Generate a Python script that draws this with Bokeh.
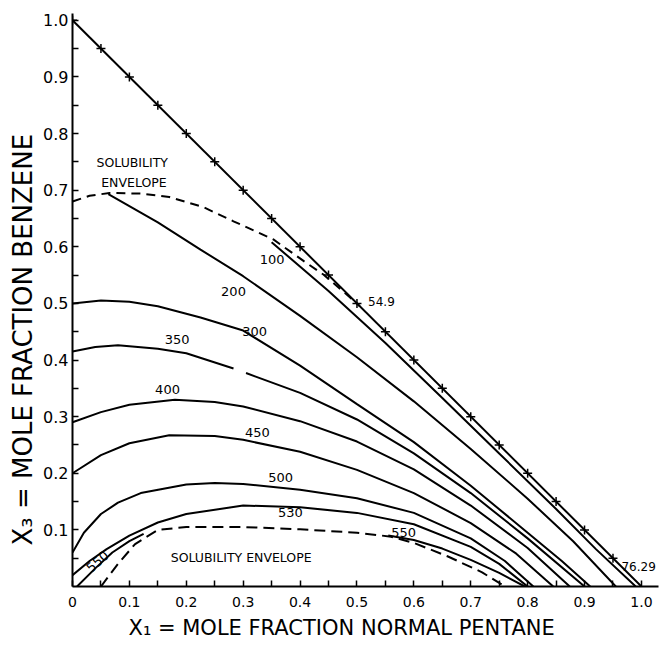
from bokeh.plotting import figure
from bokeh.models import FixedTicker, Range1d, Title
from bokeh.core.properties import value
from bokeh.embed import file_html
from bokeh.resources import INLINE

# ---------------- data ----------------
diag_x = [0.0, 1.0]
diag_y = [1.0, 0.0]
pts_x = [0.0, 0.05, 0.10, 0.15, 0.20, 0.25, 0.30, 0.35, 0.40, 0.45, 0.50,
         0.55, 0.60, 0.65, 0.70, 0.75, 0.80, 0.85, 0.90, 0.95]
pts_y = [1.0, 0.95, 0.90, 0.85, 0.80, 0.75, 0.70, 0.65, 0.60, 0.55, 0.50,
         0.45, 0.40, 0.35, 0.30, 0.25, 0.20, 0.15, 0.10, 0.05]

env_top_x = [0.0, 0.03, 0.065, 0.12, 0.17, 0.23, 0.283, 0.353, 0.406, 0.441, 0.476, 0.505]
env_top_y = [0.68, 0.69, 0.695, 0.694, 0.688, 0.67, 0.645, 0.613, 0.575, 0.551, 0.521, 0.495]

env_low_x = [0.05, 0.08, 0.11, 0.15, 0.20, 0.30, 0.40, 0.50, 0.56, 0.60, 0.66, 0.72, 0.76]
env_low_y = [0.0, 0.04, 0.075, 0.10, 0.105, 0.105, 0.101, 0.095, 0.088, 0.077, 0.053, 0.025, 0.0]

p100_x = [0.35, 0.45, 0.55, 0.65, 0.75, 0.85, 0.92, 0.99]
p100_y = [0.608, 0.522, 0.430, 0.333, 0.235, 0.137, 0.066, 0.0]

p200_x = [0.063, 0.15, 0.225, 0.30, 0.40, 0.50, 0.60, 0.70, 0.80, 0.88, 0.955]
p200_y = [0.693, 0.643, 0.595, 0.548, 0.478, 0.405, 0.327, 0.243, 0.155, 0.08, 0.0]

p300_x = [0.0, 0.05, 0.10, 0.15, 0.225, 0.30, 0.40, 0.50, 0.60, 0.70, 0.80, 0.86, 0.91]
p300_y = [0.50, 0.505, 0.503, 0.495, 0.475, 0.452, 0.39, 0.322, 0.255, 0.178, 0.095, 0.045, 0.0]

p350a_x = [0.0, 0.04, 0.08, 0.15, 0.20, 0.283]
p350a_y = [0.415, 0.423, 0.426, 0.42, 0.412, 0.385]
p350b_x = [0.305, 0.40, 0.50, 0.60, 0.70, 0.80, 0.90]
p350b_y = [0.377, 0.342, 0.295, 0.235, 0.165, 0.085, 0.0]

p400_x = [0.0, 0.05, 0.10, 0.18, 0.25, 0.30, 0.40, 0.50, 0.60, 0.70, 0.80, 0.874]
p400_y = [0.29, 0.308, 0.321, 0.33, 0.326, 0.318, 0.292, 0.256, 0.207, 0.143, 0.068, 0.0]

p450_x = [0.0, 0.05, 0.10, 0.17, 0.25, 0.30, 0.40, 0.50, 0.60, 0.70, 0.78, 0.845]
p450_y = [0.20, 0.232, 0.253, 0.267, 0.266, 0.259, 0.238, 0.206, 0.165, 0.112, 0.058, 0.0]

p500_x = [0.0, 0.02, 0.05, 0.08, 0.12, 0.20, 0.25, 0.30, 0.40, 0.50, 0.60, 0.70, 0.76, 0.81]
p500_y = [0.06, 0.095, 0.128, 0.148, 0.165, 0.18, 0.183, 0.181, 0.171, 0.156, 0.13, 0.085, 0.045, 0.0]

p530_x = [0.0, 0.03, 0.06, 0.10, 0.15, 0.20, 0.30, 0.40, 0.50, 0.60, 0.70, 0.75, 0.80]
p530_y = [0.02, 0.045, 0.066, 0.09, 0.113, 0.128, 0.143, 0.14, 0.13, 0.11, 0.07, 0.04, 0.0]

p550a_x = [0.008, 0.04, 0.07, 0.10, 0.125]
p550a_y = [0.0, 0.032, 0.06, 0.08, 0.093]
p550b_x = [0.555, 0.60, 0.65, 0.70, 0.75, 0.795]
p550b_y = [0.09, 0.082, 0.067, 0.047, 0.024, 0.0]

x_ticks = [0.0, 0.1, 0.2, 0.3, 0.4, 0.5, 0.6, 0.7, 0.8, 0.9, 1.0]
x_tick_labels = ["0", "0.1", "0.2", "0.3", "0.4", "0.5", "0.6", "0.7", "0.8", "0.9", "1.0"]
y_ticks = [0.1, 0.2, 0.3, 0.4, 0.5, 0.6, 0.7, 0.8, 0.9, 1.0]
y_tick_labels = ["0.1", "0.2", "0.3", "0.4", "0.5", "0.6", "0.7", "0.8", "0.9", "1.0"]
minor_ticks = [0.05, 0.15, 0.25, 0.35, 0.45, 0.55, 0.65, 0.75, 0.85, 0.95]

lab_text = ["100", "200", "300", "350", "400", "450", "500", "530", "550"]
lab_x = [0.351, 0.283, 0.32, 0.184, 0.167, 0.325, 0.366, 0.383, 0.582]
lab_y = [0.578, 0.521, 0.45, 0.436, 0.348, 0.272, 0.193, 0.131, 0.095]
small_text = ["54.9", "76.29"]
small_x = [0.543, 0.995]
small_y = [0.504, 0.035]

x_title = "X\u2081 = MOLE FRACTION NORMAL PENTANE"
y_title = "X\u2083 = MOLE FRACTION BENZENE"

# ---------------- figure ----------------
FONT = "DejaVu Sans"
p = figure(frame_width=586, frame_height=573,
           x_range=Range1d(0, 1.03), y_range=Range1d(0, 1.012),
           output_backend="svg", toolbar_location=None,
           min_border_left=72, min_border_right=8, min_border_top=13, min_border_bottom=20)
p.outline_line_color = None
p.xgrid.visible = False
p.ygrid.visible = False
p.background_fill_color = "white"
p.border_fill_color = "white"

LW = 2
p.line(diag_x, diag_y, line_color="black", line_width=LW)
p.scatter(pts_x, pts_y, marker="cross", size=9, line_color="black", line_width=1.5)
p.line(env_top_x, env_top_y, line_color="black", line_width=LW, line_dash="9 6")
p.line(env_low_x, env_low_y, line_color="black", line_width=LW, line_dash="11 6")
for xs, ys in [(p100_x, p100_y), (p200_x, p200_y), (p300_x, p300_y),
               (p350a_x, p350a_y), (p350b_x, p350b_y), (p400_x, p400_y),
               (p450_x, p450_y), (p500_x, p500_y), (p530_x, p530_y),
               (p550a_x, p550a_y), (p550b_x, p550b_y)]:
    p.line(xs, ys, line_color="black", line_width=LW)

p.text(lab_x, lab_y, text=lab_text, text_font=value(FONT), text_font_size="13px",
       text_align="center", text_baseline="middle", text_color="black")
p.text(small_x, small_y, text=small_text, text_font=value(FONT), text_font_size="12px",
       text_align="center", text_baseline="middle", text_color="black")
p.text([0.044], [0.044], text=["550"], angle=0.72, text_font=value(FONT),
       text_font_size="13px", text_align="center", text_baseline="middle", text_color="black")
p.text([0.105, 0.108, 0.30], [0.749, 0.714, 0.051],
       text=["SOLUBILITY", "ENVELOPE", "SOLUBILITY  ENVELOPE"],
       text_font=value(FONT), text_font_size="12.5px",
       text_align="center", text_baseline="middle", text_color="black")

# axes
xa = p.xaxis[0]
xa.ticker = FixedTicker(ticks=x_ticks, minor_ticks=minor_ticks)
xa.major_label_overrides = {t: s for t, s in zip(x_ticks, x_tick_labels)}
ya = p.yaxis[0]
ya.ticker = FixedTicker(ticks=y_ticks, minor_ticks=minor_ticks)
ya.major_label_overrides = {t: s for t, s in zip(y_ticks, y_tick_labels)}
for ax in (xa, ya):
    ax.axis_line_width = 2
    ax.axis_line_color = "black"
    ax.major_tick_in = 6
    ax.major_tick_out = 0
    ax.minor_tick_in = 6
    ax.minor_tick_out = 0
    ax.major_tick_line_width = 1.5
    ax.minor_tick_line_width = 1.5
    ax.major_tick_line_color = "black"
    ax.minor_tick_line_color = "black"
    ax.major_label_text_font = FONT
    ax.major_label_text_color = "black"

xa.major_label_text_font_size = "14px"
xa.major_label_standoff = 10
ya.major_label_text_font_size = "16px"
ya.major_label_standoff = 4

tx = Title(text=x_title, align="left", offset=56, standoff=8,
           text_font=FONT, text_font_size="21px", text_font_style="normal",
           text_color="black")
p.add_layout(tx, "below")
ty = Title(text=y_title, align="left", offset=41, standoff=6,
           text_font=FONT, text_font_size="26px", text_font_style="normal",
           text_color="black")
p.add_layout(ty, "left")

open("out.html", "w").write(file_html(p, INLINE))
